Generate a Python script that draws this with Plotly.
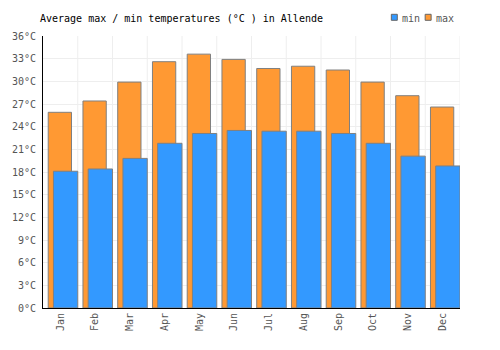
import plotly.graph_objects as go

months = ["Jan", "Feb", "Mar", "Apr", "May", "Jun", "Jul", "Aug", "Sep", "Oct", "Nov", "Dec"]
max_temp = [25.9, 27.4, 29.9, 32.6, 33.6, 32.9, 31.7, 32.0, 31.5, 29.9, 28.1, 26.6]
min_temp = [18.1, 18.4, 19.8, 21.8, 23.1, 23.5, 23.4, 23.4, 23.1, 21.8, 20.1, 18.8]
y_ticks = [0, 3, 6, 9, 12, 15, 18, 21, 24, 27, 30, 33, 36]

font = "DejaVu Sans Mono"
ORANGE = "#FF9933"
BLUE = "#3399FF"
EDGE = "#808080"

fig = go.Figure()
fig.add_trace(go.Bar(
    x=months, y=max_temp, name="max",
    marker=dict(color=ORANGE, line=dict(color=EDGE, width=1)),
    offset=-0.35, width=0.67, showlegend=False,
))
fig.add_trace(go.Bar(
    x=months, y=min_temp, name="min",
    marker=dict(color=BLUE, line=dict(color=EDGE, width=1)),
    offset=-0.2, width=0.7, showlegend=False,
))

W, H = 500, 350
shapes = []
annotations = []
# legend drawn in container pixel coordinates
legend_items = [("min", BLUE, 391), ("max", ORANGE, 425)]
for label, col, x0 in legend_items:
    shapes.append(dict(type="rect", xref="paper", yref="paper",
                       x0=(x0 - 41) / 419, x1=(x0 + 6 - 41) / 419,
                       y0=(308 - 20.3) / 272, y1=(308 - 14.3) / 272,
                       fillcolor=col, line=dict(color="#666666", width=1)))
    annotations.append(dict(text=label, xref="paper", yref="paper",
                            x=(x0 + 8.5 - 41) / 419, xanchor="left",
                            y=(308 - 18) / 272, yanchor="middle", showarrow=False,
                            font=dict(family=font, size=10, color="#555555")))

# vertical gridlines at category boundaries
for i in range(1, len(months) + 1):
    shapes.append(dict(type="line", xref="x", yref="paper", x0=i - 0.5, x1=i - 0.5, y0=0, y1=1,
                       line=dict(color="#eeeeee", width=1), layer="below"))

fig.update_layout(
    width=W, height=H,
    margin=dict(l=41, r=40, t=36, b=42),
    barmode="overlay",
    plot_bgcolor="white", paper_bgcolor="white",
    font=dict(family=font, size=10, color="#555555"),
    title=dict(text="Average max / min temperatures (°C ) in Allende",
               x=40 / W, xanchor="left", y=1 - 18 / H, yanchor="middle",
               font=dict(family=font, size=10, color="#000000")),
    showlegend=False,
    shapes=shapes,
    annotations=annotations,
)
fig.update_xaxes(
    range=[-0.5, 11.5],
    showline=True, linecolor="#000000", linewidth=1,
    showgrid=False, tickangle=-90, ticks="",
    tickfont=dict(family=font, size=10, color="#555555"),
)
fig.update_yaxes(
    range=[0, 36], tickvals=y_ticks, ticktext=[f"{v}°C" for v in y_ticks],
    showline=True, linecolor="#000000", linewidth=1,
    showgrid=True, gridcolor="#eeeeee", zeroline=False,
    ticklabelstandoff=4,
    tickfont=dict(family=font, size=10, color="#555555"),
)
fig.write_html("out.html")
